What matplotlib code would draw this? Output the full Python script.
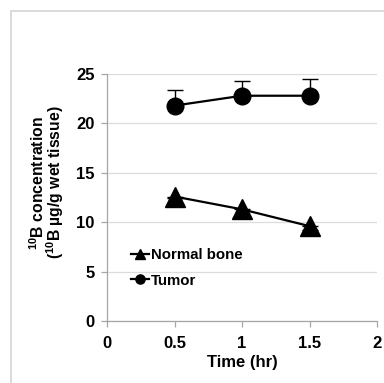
import matplotlib
matplotlib.use("Agg")
import matplotlib.pyplot as plt
from matplotlib.patches import Rectangle

plt.rcParams["font.family"] = ["Liberation Sans", "DejaVu Sans"]
plt.rcParams["font.weight"] = "bold"
plt.rcParams["mathtext.fontset"] = "custom"
plt.rcParams["mathtext.rm"] = "Liberation Sans:bold"
plt.rcParams["mathtext.bf"] = "Liberation Sans:bold"
plt.rcParams["mathtext.default"] = "rm"

# data
time_hr = [0.5, 1.0, 1.5]
tumor = [21.8, 22.8, 22.8]
tumor_err_up = [1.6, 1.5, 1.7]
bone = [12.6, 11.3, 9.6]
bone_err_down = [0.2, 0.9, 0.4]

x_ticks = [0, 0.5, 1, 1.5, 2]
x_tick_labels = ["0", "0.5", "1", "1.5", "2"]
y_ticks = [0, 5, 10, 15, 20, 25]

fig = plt.figure(figsize=(3.84, 3.83), dpi=100)
ax = fig.add_axes([0.2786, 0.1619, 0.7034, 0.6449])

# light frame around the figure
fig.patches.append(Rectangle((11 / 384, -0.05), 1.2, 1 - 11 / 383 + 0.05,
                             transform=fig.transFigure, fill=False,
                             edgecolor="#d4d4d4", linewidth=1.2))

ax.errorbar(time_hr, bone, yerr=[bone_err_down, [0, 0, 0]], fmt="none",
            ecolor="black", elinewidth=1, capsize=6, capthick=1, zorder=3)
ax.errorbar(time_hr, tumor, yerr=[[0, 0, 0], tumor_err_up], fmt="none",
            ecolor="black", elinewidth=1, capsize=6, capthick=1, zorder=3)

ax.plot(time_hr, bone, color="black", lw=1.6, marker="^", markersize=14,
        label="Normal bone", zorder=4)
ax.plot(time_hr, tumor, color="black", lw=1.6, marker="o", markersize=12,
        label="Tumor", zorder=4)

ax.set_xlim(0, 2)
ax.set_ylim(0, 25)
ax.set_xticks(x_ticks)
ax.set_xticklabels(x_tick_labels)
ax.set_yticks(y_ticks)

ax.grid(axis="y", color="#dcdcdc", linewidth=0.9)
ax.set_axisbelow(True)
for s in ["top", "right"]:
    ax.spines[s].set_visible(False)
for s in ["left", "bottom"]:
    ax.spines[s].set_color("#a6a6a6")
    ax.spines[s].set_linewidth(0.9)
ax.tick_params(axis="both", colors="#a6a6a6", length=4, width=0.9,
               labelcolor="black", labelsize=12)
ax.tick_params(axis="x", pad=7)
ax.tick_params(axis="y", pad=5)

ax.set_xlabel("Time (hr)", fontsize=12, fontweight="bold", labelpad=3)
ax.set_ylabel("$^{10}$B concentration\n($^{10}$B µg/g wet tissue)",
              fontsize=11.3, fontweight="bold", linespacing=0.85)
ax.yaxis.set_label_coords(-0.15, 0.56)

ax.legend(loc="lower left", bbox_to_anchor=(0.04, 0.08), frameon=False,
          markerscale=0.55, handlelength=1.2, handletextpad=0.1,
          labelspacing=0.75, prop={"weight": "bold", "size": 10.8})

fig.savefig("out.png", dpi=100)
